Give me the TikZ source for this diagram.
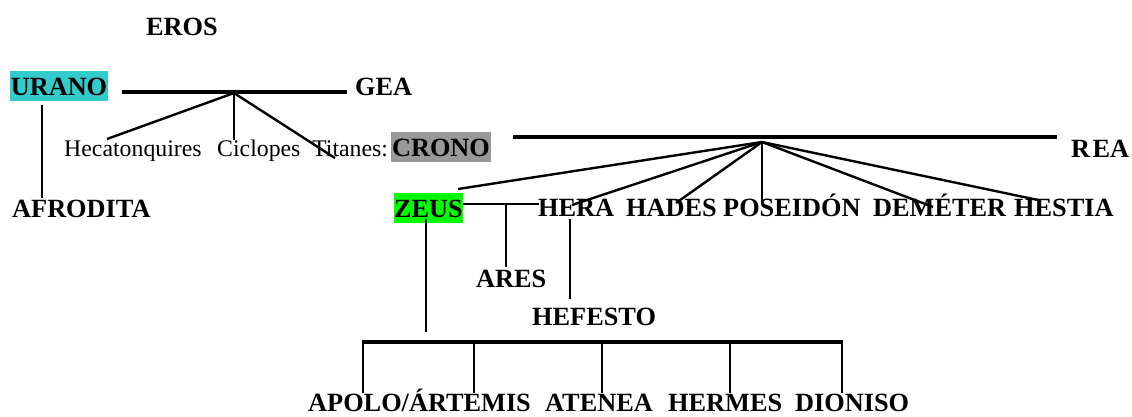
\documentclass[tikz,border=0pt]{standalone}
\usepackage{fontspec}
\setmainfont{Liberation Serif}
\definecolor{uranocol}{RGB}{51,204,204}
\definecolor{zeuscol}{RGB}{0,255,0}
\definecolor{cronocol}{RGB}{153,153,153}
\begin{document}
\begin{tikzpicture}[x=1pt,y=-1pt,
  lbl/.style={inner sep=0pt,anchor=base west,font=\fontsize{26.3}{30}\selectfont\bfseries},
  sml/.style={inner sep=0pt,anchor=base west,font=\fontsize{23.8}{28}\selectfont},
  hbox/.style={inner sep=0pt,text height=18pt,text depth=0pt,minimum height=30pt,font=\fontsize{26.3}{30}\selectfont\bfseries},
  bar/.style={line width=3.6pt},
  ln/.style={line width=2.4pt}]
\useasboundingbox (0,0) rectangle (1132,416);
% ---- nodes ----
\node[lbl] (eros) at (146,35) {EROS};
\node[hbox,fill=uranocol,minimum width=98pt] (urano) at (59,86) {URANO};
\node[lbl] (gea) at (355,95) {GEA};
\node[sml] (hec) at (64,156) {Hecatonquires};
\node[sml] (cic) at (217,156) {Ciclopes};
\node[sml] (tit) at (312,156) {Titanes:};
\node[hbox,fill=cronocol,minimum width=100pt] (crono) at (441,147) {CRONO};
\node[lbl] (rea) at (1071,157) {R\kern2.5pt EA};
\node[lbl] (afro) at (12,217) {AFRODITA};
\node[hbox,fill=zeuscol,minimum width=69pt] (zeus) at (428.5,208) {ZEUS};
\node[lbl] (hera) at (538,216) {HERA};
\node[lbl] (hades) at (626,216) {HADES};
\node[lbl] (pos) at (723,216) {POSEIDÓN};
\node[lbl] (dem) at (873,216) {DEMÉTER};
\node[lbl] (hes) at (1014,216) {HESTIA};
\node[lbl] (ares) at (476,287) {ARES};
\node[lbl] (hef) at (532,325) {HEFESTO};
\node[lbl] (apolo) at (308,411.5) {APOLO/ÁRTEMIS};
\node[lbl] (atenea) at (545,411.5) {ATENEA};
\node[lbl] (hermes) at (668,411.5) {HERMES};
\node[lbl] (dioniso) at (795,411.5) {DIONISO};
% ---- coordinates ----
\coordinate (ugl) at (122,92);
\coordinate (ugr) at (347,92);
\coordinate (ug) at (234,93);
\coordinate (hecT) at (107,139);
\coordinate (cicT) at (234,140);
\coordinate (titT) at (335,158);
\coordinate (uraB) at (42,105);
\coordinate (afroT) at (42,198);
\coordinate (crl) at (513,137);
\coordinate (crr) at (1057,137);
\coordinate (cr) at (762,142);
\coordinate (zeusT) at (458,189);
\coordinate (heraT) at (572,205);
\coordinate (hadesT) at (676,203);
\coordinate (posT) at (762,205);
\coordinate (demT) at (933,207);
\coordinate (hesT) at (1038,200);
\coordinate (zhl) at (463,204);
\coordinate (zhr) at (539,204);
\coordinate (aresA) at (506,204);
\coordinate (aresT) at (506,267);
\coordinate (heraB) at (570,219);
\coordinate (hefT) at (570,299);
\coordinate (zeusB) at (426,219);
\coordinate (zeusE) at (426,332);
\coordinate (b1) at (363,342);
\coordinate (b2) at (474,342);
\coordinate (b3) at (602,342);
\coordinate (b4) at (730,342);
\coordinate (b5) at (842,342);
% ---- connectors ----
\draw[bar] (ugl) -- (ugr);
\draw[ln] (ug) -- (hecT);
\draw[ln] (ug) -- (cicT);
\draw[ln] (ug) -- (titT);
\draw[ln] (uraB) -- (afroT);
\draw[bar] (crl) -- (crr);
\foreach \t in {zeusT,heraT,hadesT,posT,demT,hesT} \draw[ln] (cr) -- (\t);
\draw[ln] (zhl) -- (zhr);
\draw[ln] (aresA) -- (aresT);
\draw[ln] (heraB) -- (hefT);
\draw[ln] (zeusB) -- (zeusE);
\draw[bar] ([xshift=-1.2pt]b1) -- ([xshift=1.2pt]b5);
\foreach \b in {b1,b2,b3,b4,b5} \draw[ln] (\b) -- ++(0,51);
\end{tikzpicture}
\end{document}
